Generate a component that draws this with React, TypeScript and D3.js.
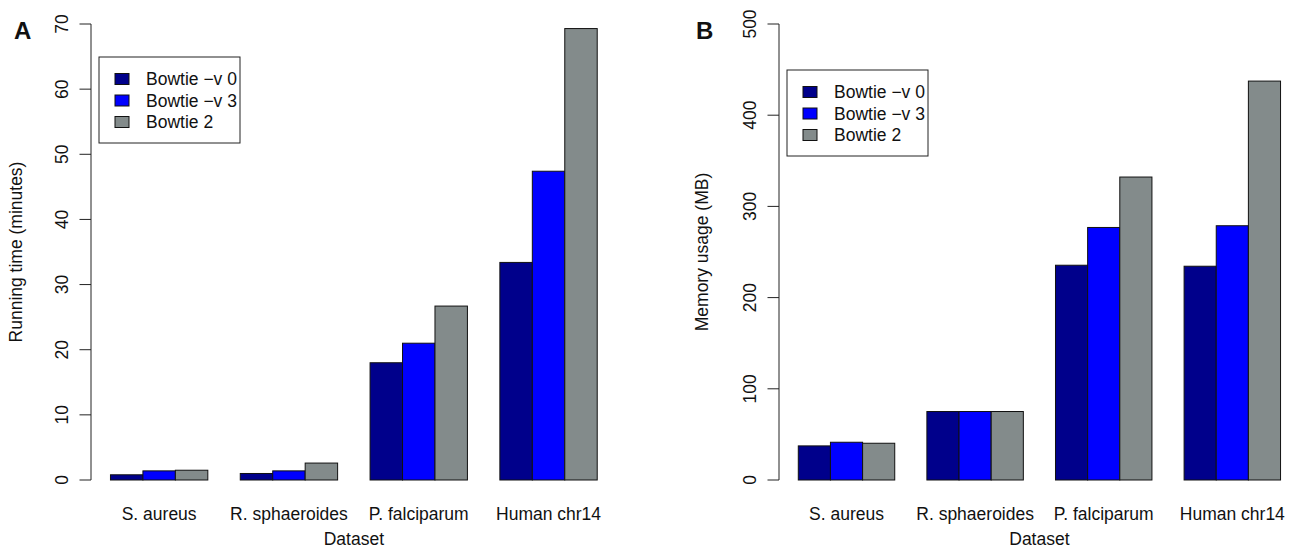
// Two-panel grouped bar chart (running time / memory) in the style of an R barplot.
import * as d3 from "d3";

const datasets = ["S. aureus", "R. sphaeroides", "P. falciparum", "Human chr14"];
const seriesNames = ["Bowtie \u2212v 0", "Bowtie \u2212v 3", "Bowtie 2"];
const seriesColors = ["#00008B", "#0000FF", "#838B8B"];

// running time (minutes)
const runV0 = [0.8, 1.0, 18.0, 33.4];
const runV3 = [1.4, 1.4, 21.0, 47.4];
const runBt2 = [1.5, 2.6, 26.7, 69.3];
const runTicks = [0, 10, 20, 30, 40, 50, 60, 70];

// memory usage (MB)
const memV0 = [37.4, 75.1, 235.5, 234.4];
const memV3 = [41.4, 75.1, 276.9, 278.8];
const memBt2 = [40.3, 75.1, 332.2, 437.4];
const memTicks = [0, 100, 200, 300, 400, 500];

const FONT = "'Liberation Sans', Arial, Helvetica, sans-serif";
const FS = 17.5;

interface PanelProps {
  tag: string;
  tagX: number;
  title: string;
  series: number[][];
  ticks: number[];
  axisX: number;   // x of the y axis (usr left edge)
  unit: number;    // px per bar width
  legendX: number;
  legendY: number;
  titleOff: number;
}

function Panel(p: PanelProps) {
  const y0 = 480, yTop = 24;
  const maxTick = p.ticks[p.ticks.length - 1];
  const y = d3.scaleLinear().domain([0, maxTick]).range([y0, yTop]);
  // R barplot coordinates: groups of 3 bars, 1 unit gap, usr = [0.4, 16.6]
  const u = d3.scaleLinear().domain([0.4, 16.6]).range([p.axisX, p.axisX + 16.2 * p.unit]);
  const groups = d3.scaleBand<string>().domain(datasets)
    .range([u(1), u(16)]).paddingInner(0.25).paddingOuter(0);
  const inner = d3.scaleBand<number>().domain(d3.range(seriesNames.length))
    .range([0, groups.bandwidth()]);
  const midX = u(8.5);
  const midY = (y(maxTick * 1.04) + y(-maxTick * 0.04)) / 2;

  return (
    <g fontFamily={FONT} fontSize={FS} fill="#111">
      <text x={p.tagX} y={39} fontSize={24} fontWeight="bold">{p.tag}</text>

      {datasets.map((d, i) => (
        <g key={d} transform={`translate(${groups(d)},0)`}>
          {p.series.map((vals, j) => (
            <rect key={j} x={inner(j)} width={inner.bandwidth()}
                  y={y(vals[i])} height={y(0) - y(vals[i])}
                  fill={seriesColors[j]} stroke="#111" strokeWidth={1} />
          ))}
          <text x={groups.bandwidth() / 2} y={519.5} textAnchor="middle">{d}</text>
        </g>
      ))}

      <line x1={p.axisX} x2={p.axisX} y1={y(0)} y2={y(maxTick)} stroke="#222" />
      {p.ticks.map((t) => (
        <g key={t}>
          <line x1={p.axisX - 11.5} x2={p.axisX} y1={y(t)} y2={y(t)} stroke="#222" />
          <text transform={`translate(${p.axisX - 23.5},${y(t)}) rotate(-90)`}
                textAnchor="middle">{t}</text>
        </g>
      ))}

      <text transform={`translate(${p.axisX - p.titleOff},${midY}) rotate(-90)`}
            textAnchor="middle">{p.title}</text>
      <text x={midX} y={544.5} textAnchor="middle">Dataset</text>

      <g transform={`translate(${p.legendX},${p.legendY})`}>
        <rect width={141} height={86} fill="white" stroke="#222" strokeWidth={1} />
        {seriesNames.map((s, j) => (
          <g key={s} transform={`translate(0,${22 + j * 21.5})`}>
            <rect x={16} y={-5.5} width={14} height={11} fill={seriesColors[j]}
                  stroke="#111" strokeWidth={1} />
            <text x={47} y={6.2}>{s}</text>
          </g>
        ))}
      </g>
    </g>
  );
}

export default function App() {
  return (
    <svg width={1289} height={549} style={{ position: "absolute", left: 0, top: 0, background: "white" }}>
      <Panel tag="A" tagX={14} title="Running time (minutes)"
             series={[runV0, runV3, runBt2]} ticks={runTicks}
             axisX={91} unit={32.45} legendX={99} legendY={57} titleOff={69} />
      <Panel tag="B" tagX={696} title="Memory usage (MB)"
             series={[memV0, memV3, memBt2]} ticks={memTicks}
             axisX={779} unit={32.15} legendX={787} legendY={70} titleOff={71} />
    </svg>
  );
}
